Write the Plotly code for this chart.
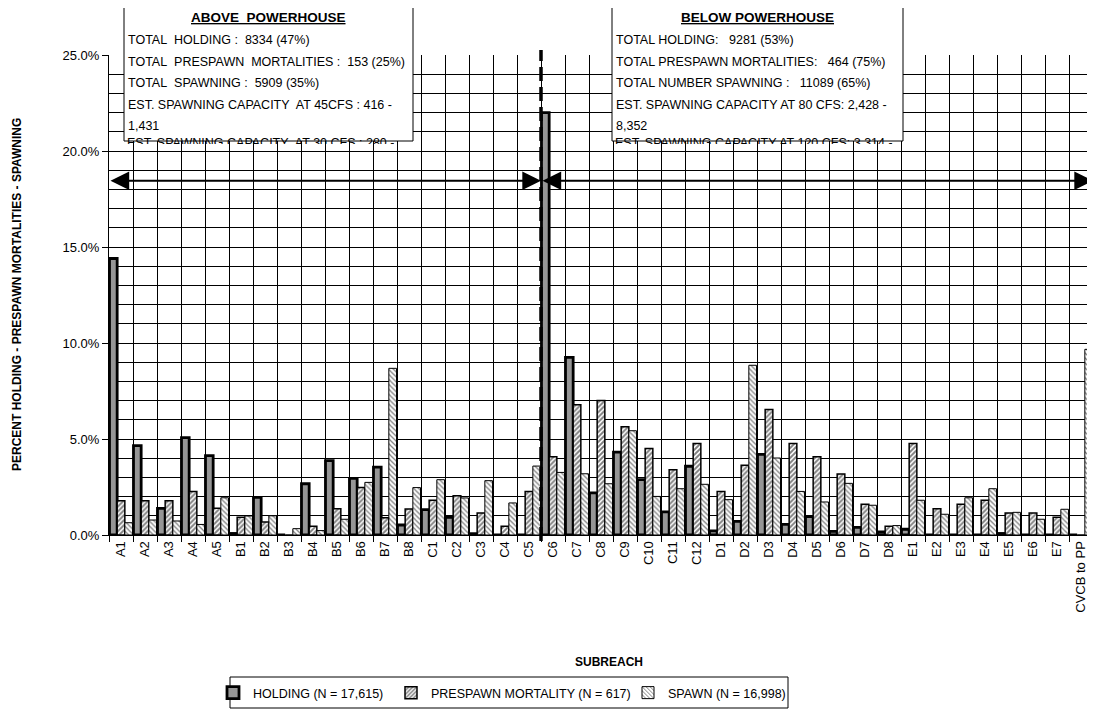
import plotly.graph_objects as go

categories = ["A1", "A2", "A3", "A4", "A5",
              "B1", "B2", "B3", "B4", "B5", "B6", "B7", "B8",
              "C1", "C2", "C3", "C4", "C5", "C6", "C7", "C8", "C9", "C10", "C11", "C12",
              "D1", "D2", "D3", "D4", "D5", "D6", "D7", "D8",
              "E1", "E2", "E3", "E4", "E5", "E6", "E7", "CVCB to PP"]

holding = [14.4, 4.65, 1.39, 5.07, 4.13,
           0.08, 1.96, 0, 2.67, 3.87, 2.95, 3.54, 0.52,
           1.32, 0.92, 0.07, 0, 0, 22.0, 9.25, 2.19, 4.32, 2.88, 1.2, 3.58,
           0.21, 0.71, 4.2, 0.55, 0.96, 0.19, 0.4, 0.16,
           0.3, 0, 0, 0, 0.08, 0, 0, 0]

prespawn = [1.79, 1.79, 1.79, 2.26, 1.39,
            0.92, 0.68, 0, 0.45, 1.37, 2.48, 0.9, 1.35,
            1.81, 2.05, 1.15, 0.45, 2.26, 4.08, 6.79, 7.01, 5.64, 4.51, 3.40, 4.76,
            2.26, 3.63, 6.54, 4.76, 4.08, 3.18, 1.6, 0.45,
            4.76, 1.37, 1.6, 1.81, 1.15, 1.15, 0.92, 0]

spawn = [0.64, 0.78, 0.73, 0.55, 1.94,
         0.99, 1.0, 0.33, 0.23, 0.82, 2.74, 8.68, 2.47,
         2.88, 1.93, 2.83, 1.67, 3.59, 3.26, 3.19, 2.67, 5.43, 2.01, 2.41, 2.64,
         1.84, 8.84, 4.01, 2.27, 1.72, 2.69, 1.55, 0.49,
         1.81, 1.08, 1.94, 2.41, 1.18, 0.82, 1.34, 9.67]

series_names = ["HOLDING (N = 17,615)", "PRESPAWN MORTALITY (N = 617)", "SPAWN (N = 16,998)"]

above_lines = ["TOTAL\u00a0 HOLDING :\u00a0 8334 (47%)",
               "TOTAL\u00a0 PRESPAWN\u00a0 MORTALITIES :\u00a0 153 (25%)",
               "TOTAL\u00a0 SPAWNING :\u00a0 5909 (35%)",
               "EST. SPAWNING CAPACITY\u00a0 AT 45CFS : 416 -",
               "1,431"]
above_cut = "EST. SPAWNING CAPACITY\u00a0 AT 30 CFS : 280 -"
below_lines = ["TOTAL HOLDING:\u00a0\u00a0 9281 (53%)",
               "TOTAL PRESPAWN MORTALITIES:\u00a0\u00a0 464 (75%)",
               "TOTAL NUMBER SPAWNING :\u00a0\u00a0 11089 (65%)",
               "EST. SPAWNING CAPACITY AT 80 CFS: 2,428 -",
               "8,352"]
below_cut = "EST. SPAWNING CAPACITY AT 120 CFS: 3,314 -"

split_at = 17.5       # between C5 and C6 (powerhouse)
arrow_level = 18.45   # percent

# page is offset by the 8px body margin
OFF = 8
W, H = 1095 - OFF, 719 - OFF
L, T = 109 - OFF, 55 - OFF
PW, PH = 984, 480
R, B = W - L - PW, H - T - PH
FONT = "Liberation Sans, Arial, sans-serif"


def px(x):
    # page pixel -> paper
    return (x - OFF - L) / PW


def py(y):
    return (T + PH - (y - OFF)) / PH


fig = go.Figure()

fig.add_trace(go.Bar(
    x=categories, y=holding, name=series_names[0], legend="legend",
    marker=dict(color="#969696", line=dict(color="black", width=2.8))
))
fig.add_trace(go.Bar(
    x=categories, y=prespawn, name=series_names[1], legend="legend2",
    marker=dict(color="white", line=dict(color="black", width=1.5),
                pattern=dict(shape="/", fgcolor="black", bgcolor="white", size=3.5, solidity=0.55))
))
fig.add_trace(go.Bar(
    x=categories, y=spawn, name=series_names[2], legend="legend3",
    marker=dict(color="white", line=dict(color="black", width=1),
                pattern=dict(shape="\\", fgcolor="black", bgcolor="white", size=3.5, solidity=0.35))
))

shapes = []
annotations = []

# text boxes
for x0, x1, title, lines, cut in [(124, 413, "ABOVE\u00a0 POWERHOUSE", above_lines, above_cut),
                                  (612, 903, "BELOW POWERHOUSE", below_lines, below_cut)]:
    shapes.append(dict(type="rect", xref="paper", yref="paper",
                       x0=px(x0), x1=px(x1), y0=py(141), y1=py(7),
                       fillcolor="white", line=dict(color="black", width=1), layer="above"))
    annotations.append(dict(xref="paper", yref="paper", x=px((x0 + x1) / 2), y=py(17),
                            text="<b>" + title + "</b>", showarrow=False,
                            xanchor="center", yanchor="middle",
                            font=dict(family=FONT, size=13.5, color="black", lineposition="under")))
    for i, line in enumerate(lines):
        annotations.append(dict(xref="paper", yref="paper", x=px(x0 + 2), y=py(40 + i * 21.6),
                                text=line, showarrow=False, xanchor="left", yanchor="middle",
                                font=dict(family=FONT, size=12.5, color="black")))
    annotations.append(dict(xref="paper", yref="paper", x=px(x0 + 2), y=py(135),
                            text=cut, showarrow=False, xanchor="left", yanchor="top",
                            height=8, valign="top", borderpad=0,
                            font=dict(family=FONT, size=12.5, color="black")))

# powerhouse divider
shapes.append(dict(type="line", xref="x", yref="paper", x0=split_at, x1=split_at,
                   y0=py(541), y1=py(50), layer="above",
                   line=dict(color="black", width=3.5, dash="14px,6px")))

# legend frame
shapes.append(dict(type="rect", xref="paper", yref="paper",
                   x0=px(230), x1=px(788), y0=py(708), y1=py(677),
                   line=dict(color="black", width=1)))

# double arrows
for a, b in [(-0.5, split_at), (split_at, len(categories) - 0.5)]:
    annotations.append(dict(x=b, y=arrow_level, ax=a, ay=arrow_level,
                            xref="x", yref="y", axref="x", ayref="y",
                            text="", showarrow=True, arrowside="end+start",
                            arrowhead=2, arrowsize=1.7, arrowwidth=2.2, arrowcolor="black"))

# axis titles
annotations.append(dict(xref="paper", yref="paper", x=px(17), y=py(295),
                        text="<b>PERCENT HOLDING - PRESPAWN MORTALITIES - SPAWNING</b>",
                        textangle=-90, showarrow=False, xanchor="center", yanchor="middle",
                        font=dict(family=FONT, size=12, color="black")))
annotations.append(dict(xref="paper", yref="paper", x=px(609), y=py(662),
                        text="<b>SUBREACH</b>", showarrow=False,
                        xanchor="center", yanchor="middle",
                        font=dict(family=FONT, size=12, color="black")))

legend_style = dict(yanchor="middle", xanchor="left", bgcolor="rgba(0,0,0,0)",
                    borderwidth=0, itemwidth=30,
                    font=dict(family=FONT, size=12.5, color="black"))

fig.update_layout(
    width=W, height=H,
    margin=dict(l=L, r=R, t=T, b=B),
    paper_bgcolor="white", plot_bgcolor="white",
    barmode="group", bargap=0.04, bargroupgap=0,
    font=dict(family=FONT, size=13, color="black"),
    shapes=shapes, annotations=annotations,
    showlegend=True,
    legend=dict(x=px(213), y=py(693), **legend_style),
    legend2=dict(x=px(391), y=py(693), **legend_style),
    legend3=dict(x=px(628), y=py(693), **legend_style),
)

fig.update_xaxes(
    type="category", range=[-0.5, len(categories) - 0.5],
    tickangle=-90, tickson="boundaries", ticks="outside", ticklen=6, tickcolor="black",
    showgrid=True, gridcolor="black", gridwidth=1,
    showline=True, linecolor="black", linewidth=1,
    tickfont=dict(family=FONT, size=13, color="black"),
)
fig.update_yaxes(
    range=[0, 25], dtick=5, tickformat=".1f", ticksuffix="%",
    ticks="outside", ticklen=6, tickcolor="black",
    showgrid=True, gridcolor="black", gridwidth=1,
    minor=dict(dtick=1, showgrid=True, gridcolor="black", gridwidth=1),
    showline=True, linecolor="black", linewidth=1, zeroline=False,
    tickfont=dict(family=FONT, size=13, color="black"),
)

fig.write_html("out.html")
